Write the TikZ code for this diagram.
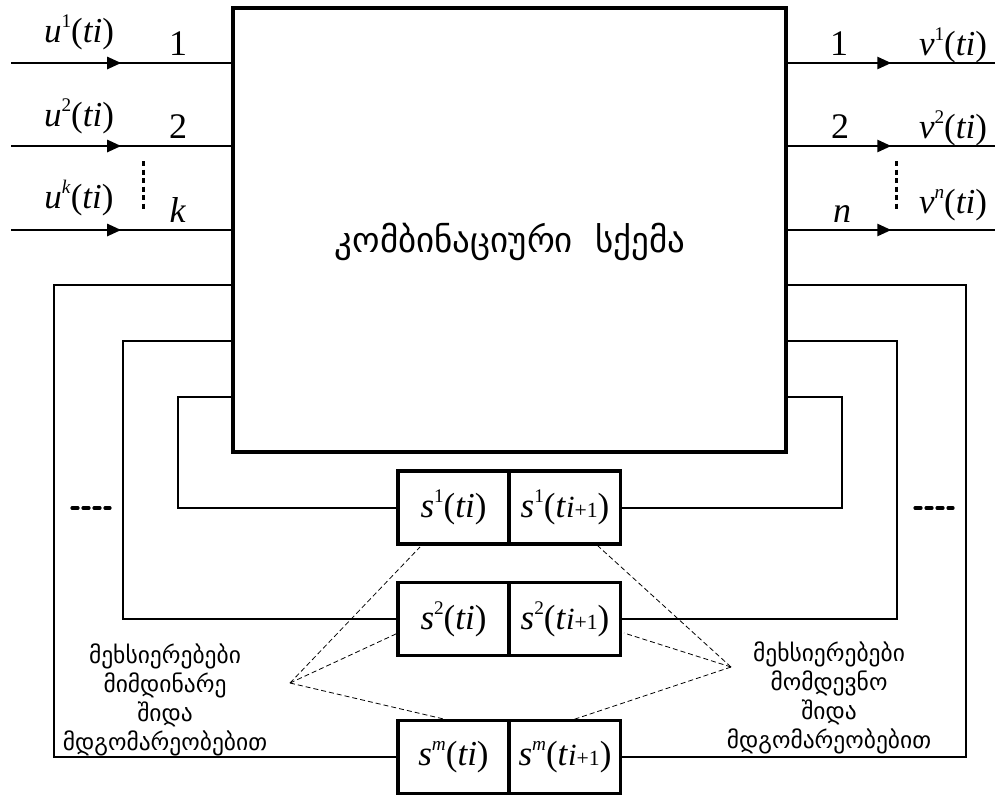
\documentclass[tikz,border=0pt]{standalone}
\usepackage{fontspec}
\setmainfont{Liberation Serif}
\newfontfamily\geo{DejaVu Sans}
\usetikzlibrary{arrows.meta,decorations.markings}
\newcommand\mysup[1]{\raisebox{0.42em}{\scalebox{0.55}{#1}}}
\newcommand\nextsub{\scalebox{0.88}{\textit{i}}\scalebox{0.62}{+1}}
\begin{document}
\begin{tikzpicture}[x=1pt,y=-1pt,
  sig/.style={line width=2.6pt,postaction={decorate},decoration={markings,mark=at position 0.5 with {\arrow{Triangle[length=14pt,width=12pt]}}}},
  fb/.style={line width=2pt},
  mainbox/.style={draw,line width=3.2pt,minimum width=553pt,minimum height=444pt,inner sep=0pt},
  cell/.style={draw,line width=3.2pt,minimum width=111pt,minimum height=73pt,inner sep=0pt,font=\fontsize{35}{40}\selectfont},
  lab/.style={font=\fontsize{35}{40}\selectfont,anchor=base,inner sep=0pt},
  num/.style={font=\fontsize{36}{40}\selectfont,anchor=base,inner sep=0pt},
  geotext/.style={font=\geo\fontsize{23.5}{29}\selectfont,align=center,inner sep=0pt},
  vdots/.style={line width=3pt,dash pattern=on 5pt off 3.5pt},
  hdots/.style={line width=3.2pt,dash pattern=on 6pt off 5pt,line cap=round},
  guide/.style={line width=0.8pt,dash pattern=on 5pt off 3pt}]
\useasboundingbox (0,0) rectangle (998,798);
% main box
\node[mainbox] (cs) at (509.5,230) {};
\node[font=\geo\fontsize{35}{40}\selectfont] (cst) at (510,242) {კომბინაციური~~სქემა};
% inputs
\coordinate (in1) at (11,63);
\coordinate (in2) at (11,146);
\coordinate (in3) at (11,230);
\draw[sig] (in1) -- (cs.west |- in1);
\draw[sig] (in2) -- (cs.west |- in2);
\draw[sig] (in3) -- (cs.west |- in3);
\node[lab] (u1) at (79,42) {\textit{u}\mysup{1}(\textit{ti})};
\node[lab] (u2) at (79,126) {\textit{u}\mysup{2}(\textit{ti})};
\node[lab] (uk) at (79,208) {\textit{u}\mysup{\textit{k}}(\textit{ti})};
\node[num] (n1) at (178,55) {1};
\node[num] (n2) at (178,138) {2};
\node[num] (nk) at (178,222) {\textit{k}};
\coordinate (vd1a) at (143,161);
\coordinate (vd1b) at (143,211);
\draw[vdots] (vd1a) -- (vd1b);
% outputs
\coordinate (out1) at (995,63);
\coordinate (out2) at (995,146);
\coordinate (out3) at (995,230);
\draw[sig] (cs.east |- out1) -- (out1);
\draw[sig] (cs.east |- out2) -- (out2);
\draw[sig] (cs.east |- out3) -- (out3);
\node[lab] (v1) at (953,55) {\textit{v}\mysup{1}(\textit{ti})};
\node[lab] (v2) at (953,138) {\textit{v}\mysup{2}(\textit{ti})};
\node[lab] (vn) at (953,213) {\textit{v}\mysup{\textit{n}}(\textit{ti})};
\node[num] (m1) at (839,55) {1};
\node[num] (m2) at (840,138) {2};
\node[num] (mn) at (842,222) {\textit{n}};
\coordinate (vd2a) at (896,161);
\coordinate (vd2b) at (896,211);
\draw[vdots] (vd2a) -- (vd2b);
% memory cells
\node[cell] (s1a) at (453.5,507.5) {\textit{s}\mysup{1}(\textit{ti})};
\node[cell] (s1b) at (565,507.5) {\textit{s}\mysup{1}(\textit{t}\nextsub)};
\node[cell] (s2a) at (453.5,619) {\textit{s}\mysup{2}(\textit{ti})};
\node[cell] (s2b) at (565,619) {\textit{s}\mysup{2}(\textit{t}\nextsub)};
\node[cell] (sma) at (453.5,757) {\textit{s}\mysup{\textit{m}}(\textit{ti})};
\node[cell] (smb) at (565,757) {\textit{s}\mysup{\textit{m}}(\textit{t}\nextsub)};
% feedback lines
\coordinate (fy1) at (0,397);
\coordinate (fy2) at (0,341);
\coordinate (fy3) at (0,285);
\draw[fb] (cs.west |- fy1) -- (178,397) |- (s1a.west);
\draw[fb] (cs.east |- fy1) -- (842,397) |- (s1b.east);
\draw[fb] (cs.west |- fy2) -- (123,341) |- (s2a.west);
\draw[fb] (cs.east |- fy2) -- (897,341) |- (s2b.east);
\draw[fb] (cs.west |- fy3) -- (54,285) |- (sma.west);
\draw[fb] (cs.east |- fy3) -- (966,285) |- (smb.east);
% ellipses
\coordinate (hd1a) at (72,508);
\coordinate (hd1b) at (110,508);
\draw[hdots] (hd1a) -- (hd1b);
\coordinate (hd2a) at (915,508);
\coordinate (hd2b) at (953,508);
\draw[hdots] (hd2a) -- (hd2b);
% guide lines
\coordinate (gl) at (290,683);
\coordinate (gr) at (731,667);
\draw[guide] (gl) -- (420,547);
\draw[guide] (gl) -- (398,633);
\draw[guide] (gl) -- (448,720);
\draw[guide] (gr) -- (598,546);
\draw[guide] (gr) -- (624,633);
\draw[guide] (gr) -- (572,720);
% captions
\node[geotext] (capl) at (165,700) {მეხსიერებები\\მიმდინარე\\შიდა\\მდგომარეობებით};
\node[geotext] (capr) at (829,698) {მეხსიერებები\\მომდევნო\\შიდა\\მდგომარეობებით};
\end{tikzpicture}
\end{document}
